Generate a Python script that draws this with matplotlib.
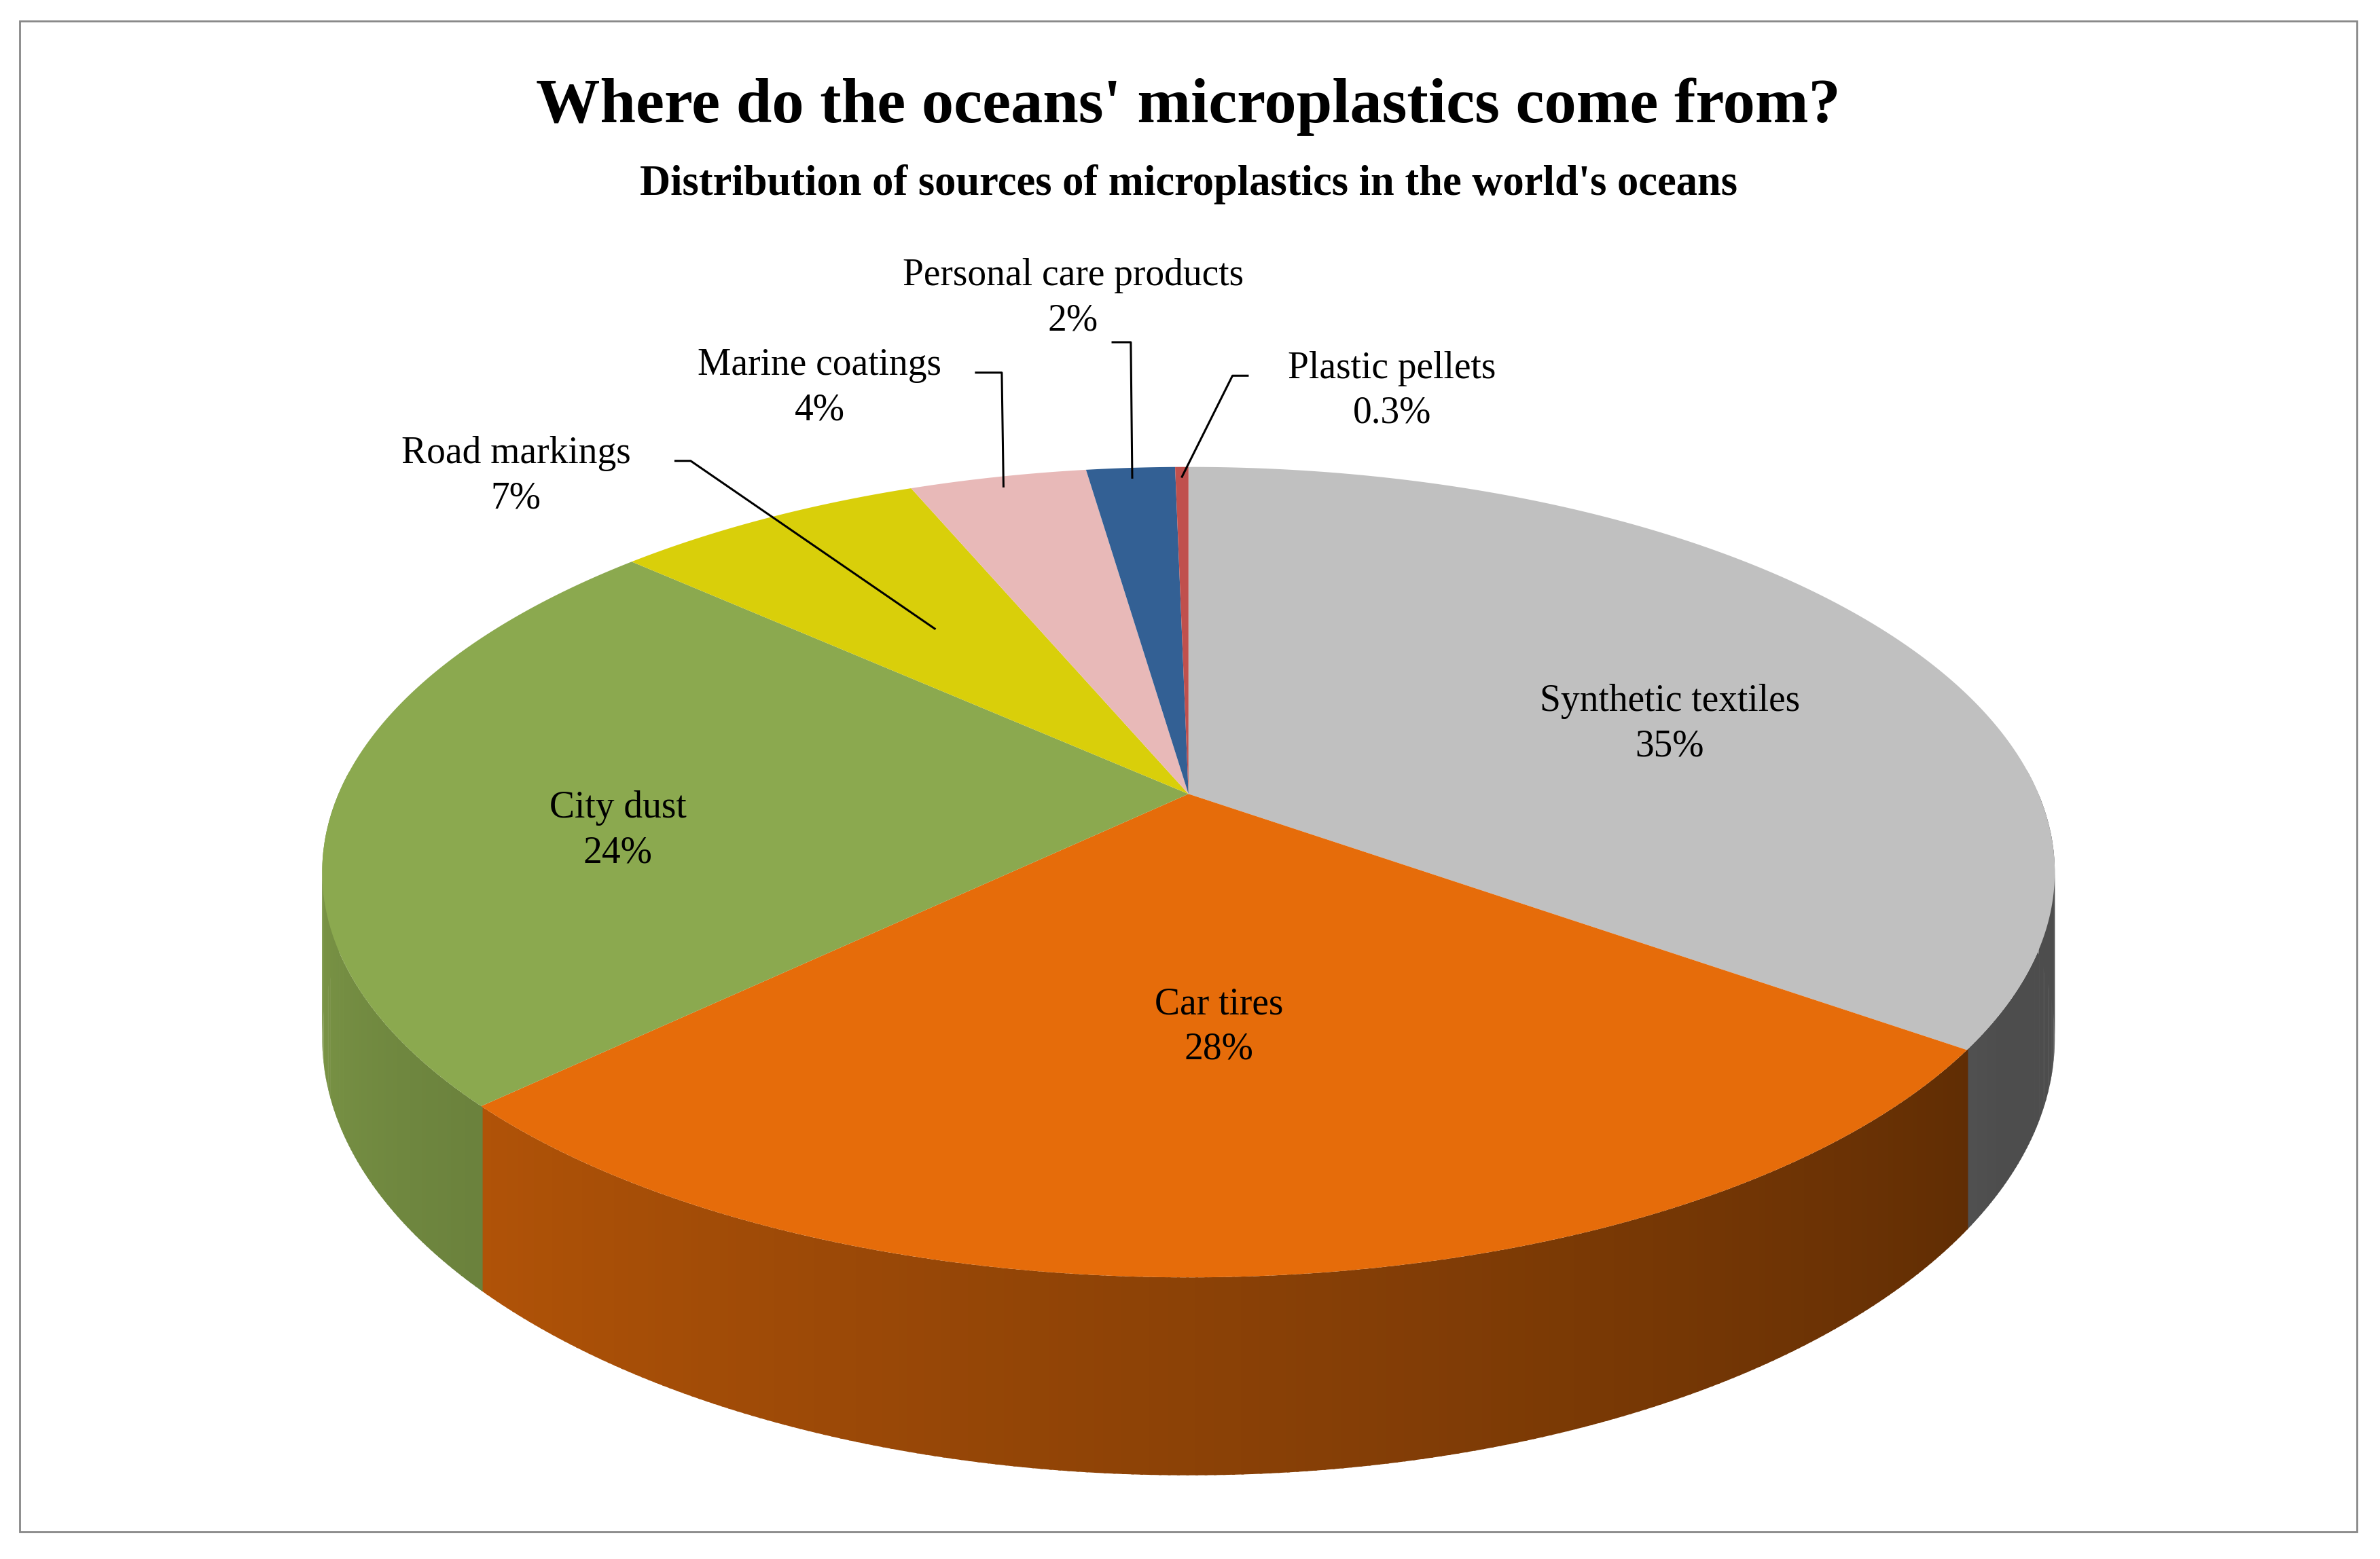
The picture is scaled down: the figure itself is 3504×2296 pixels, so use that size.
import numpy as np
import matplotlib.pyplot as plt
from matplotlib.patches import Polygon, Rectangle
from matplotlib.colors import to_rgb

labels = ['Synthetic textiles', 'Car tires', 'City dust', 'Road markings',
          'Marine coatings', 'Personal care products', 'Plastic pellets']
shares = [35, 28, 24, 7, 4, 2, 0.3]
pct_text = ['35%', '28%', '24%', '7%', '4%', '2%', '0.3%']
colors = ['#C0C0C0', '#E66C0A', '#8BA94F', '#D9CF0A', '#E8B9B8', '#336094', '#C0504D']

W, H = 1568, 1025
fig = plt.figure(figsize=(35.04, 22.96), dpi=100)
ax = fig.add_axes([0, 0, 1, 1])
ax.set_xlim(0, W)
ax.set_ylim(H, 0)
ax.axis('off')
plt.rcParams['font.family'] = ['Liberation Serif', 'DejaVu Serif']

# perspective disc
cx, cy = 783, 522
a, b, k = 560, 256.5, 0.193
depth = 105

def proj(theta, drop=0.0):
    u, v = np.cos(theta), np.sin(theta)
    w = 1 + k * v
    return cx + a * u / w, cy - b * v / w + drop / w

def shade(deg):
    deg = deg % 360
    f = 0.85 + (deg - 200) * (0.4 - 0.85) / 130
    return min(0.88, max(0.4, f))

ax.add_patch(Rectangle((13, 14), 1540, 993, fill=False, ec='#888888', lw=2))

total = sum(shares)
starts = []
ang = 90.0
for s in shares:
    starts.append(ang)
    ang -= 360 * s / total
ends = [st - 360 * s / total for st, s in zip(starts, shares)]

# side walls (front half only), thin strips for gradient
for st, en, col in zip(starts, ends, colors):
    lo, hi = en, st
    for seg_lo in np.arange(lo, hi, 0.5):
        seg_hi = min(seg_lo + 0.5, hi)
        mid = (seg_lo + seg_hi) / 2
        if np.sin(np.radians(mid)) > 0.06:
            continue
        th = np.radians(np.linspace(seg_lo, seg_hi + 0.15, 3))
        top = [proj(t) for t in th]
        bot = [proj(t, depth) for t in th[::-1]]
        c = np.array(to_rgb(col)) * shade(mid)
        ax.add_patch(Polygon(top + bot, closed=True, fc=c, ec='none'))

# top faces
for st, en, col in zip(starts, ends, colors):
    th = np.radians(np.linspace(st, en, 200))
    pts = [(cx, cy)] + [proj(t) for t in th]
    ax.add_patch(Polygon(pts, closed=True, fc=col, ec='none'))

fs = 40
ax.text(783, 70, "Where do the oceans' microplastics come from?", ha='center', va='center',
        fontsize=68, fontweight='bold')
ax.text(783, 121, "Distribution of sources of microplastics in the world's oceans", ha='center',
        va='center', fontsize=45, fontweight='bold')

inside = {0: (1100, 476), 1: (803, 675), 2: (407, 546)}
for i, (x, y) in inside.items():
    ax.text(x, y, labels[i] + '\n' + pct_text[i], ha='center', va='center', fontsize=fs,
            linespacing=1.35)

outside = {3: (340, 313, [(445, 303), (455, 303)], 0.6),
           4: (540, 255, [(643, 245), (660, 245)], 0.97),
           5: (707, 196, [(733, 225), (745, 225)], 0.97),
           6: (917, 257, [(822, 247), (812, 247)], 0.97)}
for i, (x, y, path, r) in outside.items():
    ax.text(x, y, labels[i] + '\n' + pct_text[i], ha='center', va='center', fontsize=fs,
            linespacing=1.35)
    mid = np.radians((starts[i] + ends[i]) / 2)
    px, py = proj(mid)
    ex, ey = cx + (px - cx) * r, cy + (py - cy) * r
    xs = [p[0] for p in path] + [ex]
    ys = [p[1] for p in path] + [ey]
    ax.plot(xs, ys, color='black', lw=2.2)

fig.savefig('out.png', dpi=100, facecolor='white')
